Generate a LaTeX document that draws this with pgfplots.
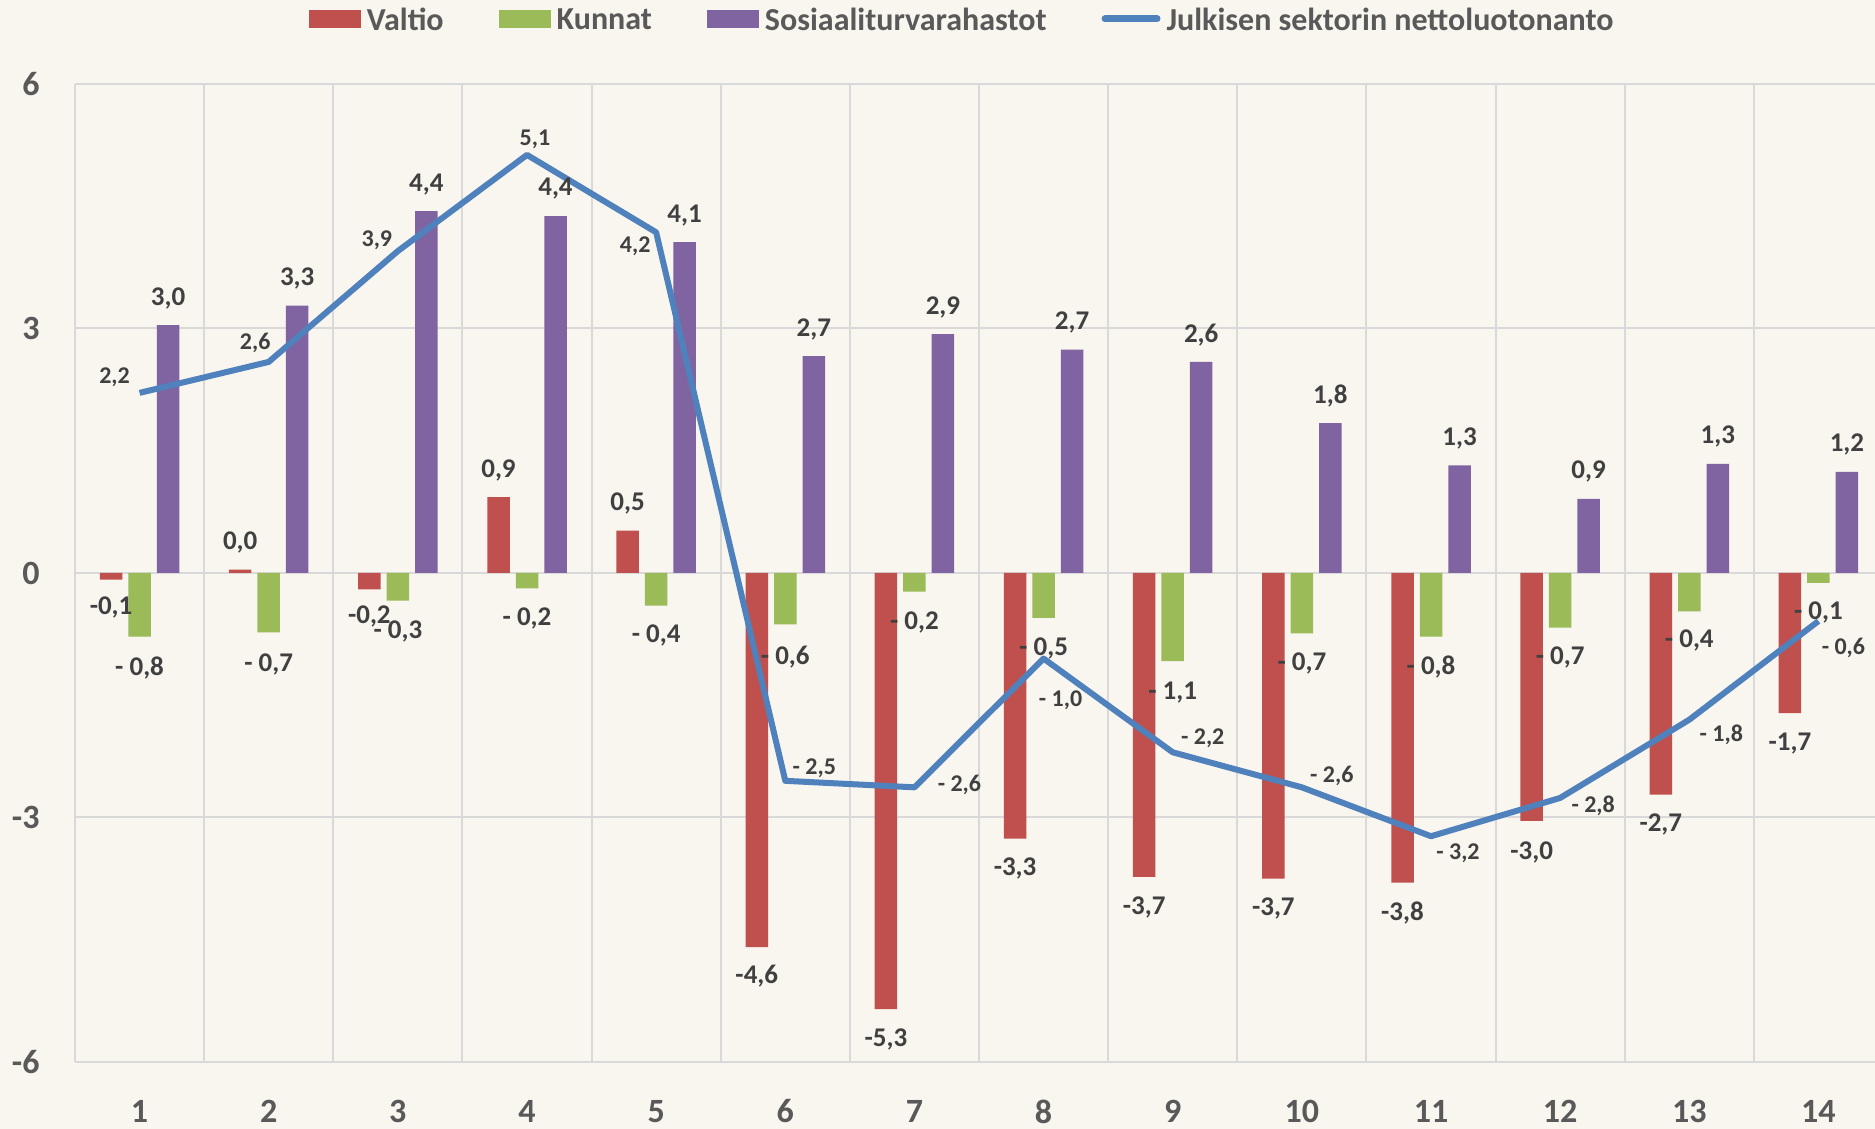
\documentclass[border=0pt]{standalone}
\usepackage{fontspec}
\setmainfont{Carlito}
\usepackage{pgfplots}
\usepackage{pgfplotstable}
\pgfplotsset{compat=1.18}
\usetikzlibrary{backgrounds}
\definecolor{bg}{RGB}{249,245,239}
\definecolor{cred}{RGB}{192,80,77}
\definecolor{cgreen}{RGB}{155,187,89}
\definecolor{cpurple}{RGB}{128,100,162}
\definecolor{cblue}{RGB}{79,129,189}
\definecolor{tgray}{RGB}{89,89,89}
\definecolor{lgray}{RGB}{64,64,64}
\definecolor{gridc}{RGB}{217,217,217}

\pgfplotstableread[col sep=semicolon,row sep=\\]{
x;y;dy;lab\\
1;-0.08;-14;-0,1\\
2;0.04;13.5;0,0\\
3;-0.2;-13.5;-0,2\\
4;0.93;13.5;0,9\\
5;0.52;13.5;0,5\\
6;-4.59;-14.5;-4,6\\
7;-5.35;-15;-5,3\\
8;-3.26;-15;-3,3\\
9;-3.73;-15;-3,7\\
10;-3.75;-15;-3,7\\
11;-3.8;-15;-3,8\\
12;-3.04;-16;-3,0\\
13;-2.72;-15;-2,7\\
14;-1.72;-15;-1,7\\
}\valtio

\pgfplotstableread[col sep=semicolon,row sep=\\]{
x;y;dy;lab\\
1;-0.78;-15.5;- 0,8\\
2;-0.73;-15.75;- 0,7\\
3;-0.34;-15.5;- 0,3\\
4;-0.19;-15;- 0,2\\
5;-0.4;-15;- 0,4\\
6;-0.63;-16.5;- 0,6\\
7;-0.23;-15.5;- 0,2\\
8;-0.55;-15.5;- 0,5\\
9;-1.08;-16;- 1,1\\
10;-0.74;-15;- 0,7\\
11;-0.78;-15;- 0,8\\
12;-0.67;-15;- 0,7\\
13;-0.47;-14.5;- 0,4\\
14;-0.12;-15;- 0,1\\
}\kunnat

\pgfplotstableread[col sep=semicolon,row sep=\\]{
x;y;dy;lab\\
1;3.04;13.5;3,0\\
2;3.28;13.5;3,3\\
3;4.44;13.5;4,4\\
4;4.38;13.5;4,4\\
5;4.06;13.5;4,1\\
6;2.66;13.5;2,7\\
7;2.93;13.5;2,9\\
8;2.74;13.5;2,7\\
9;2.59;13.5;2,6\\
10;1.84;13.5;1,8\\
11;1.32;13.5;1,3\\
12;0.91;13.5;0,9\\
13;1.34;13.5;1,3\\
14;1.24;13.5;1,2\\
}\sosiaali

\pgfplotstableread[col sep=semicolon,row sep=\\]{
x;y;dx;dy;lab\\
1;2.21;-12.5;8;2,2\\
2;2.59;-6.75;9.5;2,6\\
3;3.95;-10.5;5.5;3,9\\
4;5.13;4;8;5,1\\
5;4.18;-10.5;-7;4,2\\
6;-2.55;14.5;6.5;- 2,5\\
7;-2.63;22.5;1;- 2,6\\
8;-1.05;8.5;-21;- 1,0\\
9;-2.2;15;7;- 2,2\\
10;-2.63;15;5.5;- 2,6\\
11;-3.23;13.5;-8.5;- 3,2\\
12;-2.76;16.5;-4;- 2,8\\
13;-1.8;16;-7.5;- 1,8\\
14;-0.59;12.5;-13.5;- 0,6\\
}\julk

\begin{document}
\begin{tikzpicture}
\begin{axis}[
  scale only axis, width=904pt, height=489pt,
  xmin=0.5, xmax=14.5, ymin=-6, ymax=6,
  xtick={1,2,3,4,5,6,7,8,9,10,11,12,13,14},
  xticklabels={1,2,3,4,5,6,7,8,9,10,11,12,13,14},
  minor xtick={0.5,1.5,2.5,3.5,4.5,5.5,6.5,7.5,8.5,9.5,10.5,11.5,12.5,13.5,14.5},
  ytick={-6,-3,0,3,6},
  yticklabels={-6,-3,0,3,6},
  xmajorgrids=false, xminorgrids=true, ymajorgrids=true,
  grid style={draw=gridc, line width=1pt},
  minor grid style={draw=gridc, line width=1pt},
  major grid style={draw=gridc, line width=1pt},
  major tick length=0pt, minor tick length=0pt,
  tick style={draw=none},
  axis line style={draw=none},
  ticklabel style={font=\fontsize{17}{20}\selectfont\bfseries, text=tgray, inner sep=0pt},
  xticklabel style={anchor=center, yshift=-24.75pt},
  yticklabel style={anchor=east, xshift=-17.5pt},
  clip=false,
  legend columns=4,
  legend style={draw=none, fill=none, inner sep=0pt, outer sep=0pt,
    at={(0.1294,1)}, anchor=west, yshift=32.5pt,
    font=\fontsize{16}{19}\selectfont\bfseries, text=tgray,
    nodes={inner sep=0pt, text depth=0pt},
    /tikz/every even column/.append style={column sep=27.5pt},
    /tikz/every odd column/.append style={column sep=3pt}},
]
\coordinate (BL) at (rel axis cs:0,0);

\addplot[ybar, bar width=11.25pt, bar shift=-14.25pt, fill=cred, draw=none,
  nodes near coords, point meta=explicit symbolic,
  visualization depends on={\thisrow{dy} \as \dy},
  nodes near coords style={anchor=center, xshift=-14.25pt, yshift=\dy pt, font=\fontsize{13.5}{16}\selectfont\bfseries, text=lgray, inner sep=0pt},
  legend image code/.code={\fill[cred] (0pt,-4.5pt) rectangle (26pt,4.5pt);}
] table[x=x, y=y, meta=lab] {\valtio};
\addlegendentry{Valtio}

\addplot[ybar, bar width=11.25pt, bar shift=0pt, fill=cgreen, draw=none,
  nodes near coords, point meta=explicit symbolic,
  visualization depends on={\thisrow{dy} \as \dy},
  nodes near coords style={anchor=center, yshift=\dy pt, font=\fontsize{13.5}{16}\selectfont\bfseries, text=lgray, inner sep=0pt},
  legend image code/.code={\fill[cgreen] (0pt,-4.5pt) rectangle (26pt,4.5pt);}
] table[x=x, y=y, meta=lab] {\kunnat};
\addlegendentry{Kunnat}

\addplot[ybar, bar width=11.25pt, bar shift=14.25pt, fill=cpurple, draw=none,
  nodes near coords, point meta=explicit symbolic,
  visualization depends on={\thisrow{dy} \as \dy},
  nodes near coords style={anchor=center, xshift=14.25pt, yshift=\dy pt, font=\fontsize{13.5}{16}\selectfont\bfseries, text=lgray, inner sep=0pt},
  legend image code/.code={\fill[cpurple] (0pt,-4.5pt) rectangle (26pt,4.5pt);}
] table[x=x, y=y, meta=lab] {\sosiaali};
\addlegendentry{Sosiaaliturvarahastot}

\addplot[draw=cblue, line width=3pt, line join=round, sharp plot, mark=none,
  nodes near coords, point meta=explicit symbolic,
  visualization depends on={\thisrow{dx} \as \dx},
  visualization depends on={\thisrow{dy} \as \dy},
  nodes near coords style={anchor=center, xshift=\dx pt, yshift=\dy pt, font=\fontsize{12}{14}\selectfont\bfseries, text=lgray, inner sep=0pt},
  legend image code/.code={\draw[cblue, line width=3.5pt, line cap=round] (0pt,0pt) -- (26pt,0pt);}
] table[x=x, y=y, meta=lab] {\julk};
\addlegendentry{Julkisen sektorin nettoluotonanto}
\end{axis}
\pgfresetboundingbox
\path[use as bounding box] ([xshift=-37.5pt,yshift=-33.5pt]BL) rectangle ([xshift=900pt,yshift=531pt]BL);
\begin{scope}[on background layer]
\fill[bg] ([xshift=-37.5pt,yshift=-33.5pt]BL) rectangle ([xshift=900pt,yshift=531pt]BL);
\end{scope}
\end{tikzpicture}
\end{document}
